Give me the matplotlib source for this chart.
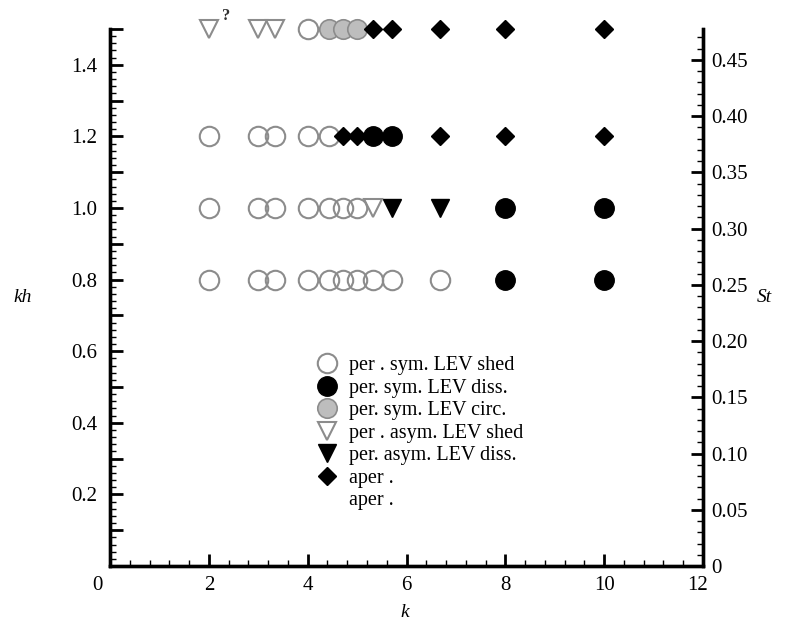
import numpy as np
import matplotlib
matplotlib.use("Agg")
import matplotlib.pyplot as plt
from matplotlib.lines import Line2D
from matplotlib.ticker import MultipleLocator, FixedLocator, FuncFormatter
import matplotlib.transforms as mtransforms

plt.rcParams['font.family'] = ['Liberation Serif', 'DejaVu Serif']

# ---- data (k, kh) per regime ----
sym_shed_k = [4,
              2, 3, 3.33, 4, 4.44,
              2, 3, 3.33, 4, 4.44, 4.71, 5.0,
              2, 3, 3.33, 4, 4.44, 4.71, 5.0, 5.33, 5.71, 6.67]
sym_shed_kh = [1.5,
               1.2, 1.2, 1.2, 1.2, 1.2,
               1.0, 1.0, 1.0, 1.0, 1.0, 1.0, 1.0,
               0.8, 0.8, 0.8, 0.8, 0.8, 0.8, 0.8, 0.8, 0.8, 0.8]

sym_diss_k = [5.33, 5.71, 8, 10, 8, 10]
sym_diss_kh = [1.2, 1.2, 1.0, 1.0, 0.8, 0.8]

sym_circ_k = [4.44, 4.71, 5.0]
sym_circ_kh = [1.5, 1.5, 1.5]

asym_shed_k = [2, 3, 3.33, 5.33]
asym_shed_kh = [1.5, 1.5, 1.5, 1.0]

asym_diss_k = [5.71, 6.67]
asym_diss_kh = [1.0, 1.0]

aper_k = [5.33, 5.71, 6.67, 8, 10, 4.71, 5.0, 6.67, 8, 10]
aper_kh = [1.5, 1.5, 1.5, 1.5, 1.5, 1.2, 1.2, 1.2, 1.2, 1.2]

legend_labels = ["per . sym. LEV shed", "per. sym. LEV diss.", "per. sym. LEV circ.",
                 "per . asym. LEV shed", "per. asym. LEV diss.", "aper .", "aper ."]

x_ticks = [0, 2, 4, 6, 8, 10, 12]
kh_labels = [0.2, 0.4, 0.6, 0.8, 1.0, 1.2, 1.4]
st_ticks = [0, 0.05, 0.10, 0.15, 0.20, 0.25, 0.30, 0.35, 0.40, 0.45]

# ---- styles ----
GRAY_EDGE = '#8c8c8c'
GRAY_FILL = '#bdbdbd'
st_open_circ = dict(marker='o', ms=14, mfc='none', mec=GRAY_EDGE, mew=1.5, ls='none')
st_fill_circ = dict(marker='o', ms=14, mfc='black', mec='black', mew=1, ls='none')
st_gray_circ = dict(marker='o', ms=14, mfc=GRAY_FILL, mec=GRAY_EDGE, mew=1.2, ls='none')
st_open_tri = dict(marker='v', ms=13, mfc='none', mec=GRAY_EDGE, mew=1.5, ls='none')
st_fill_tri = dict(marker='v', ms=13, mfc='black', mec='black', mew=1, ls='none')
st_diamond = dict(marker='D', ms=9.5, mfc='black', mec='black', mew=1, ls='none')

W, H = 794, 628
fig = plt.figure(figsize=(W / 100, H / 100), dpi=100)
L, R, B, T = 110, 703, 566, 29
ax = fig.add_axes([L / W, 1 - B / H, (R - L) / W, (B - T) / H])

ax.plot(sym_shed_k, sym_shed_kh, zorder=3, clip_on=False, **st_open_circ)
ax.plot(sym_circ_k, sym_circ_kh, zorder=3, clip_on=False, **st_gray_circ)
ax.plot(asym_shed_k, asym_shed_kh, zorder=3, clip_on=False, **st_open_tri)
ax.plot(asym_diss_k, asym_diss_kh, zorder=3, clip_on=False, **st_fill_tri)
ax.plot(aper_k, aper_kh, zorder=4, clip_on=False, **st_diamond)
ax.plot(sym_diss_k, sym_diss_kh, zorder=5, clip_on=False, **st_fill_circ)

ax.text(2.35, 1.535, "?", fontsize=12, fontweight='bold', ha='center', va='center',
        clip_on=False, color='#333333')

ax.set_xlim(0, 12)
ax.set_ylim(0, 1.5)

for s in ['left', 'bottom', 'right']:
    ax.spines[s].set_linewidth(2.4)
ax.spines['top'].set_visible(False)

ax.xaxis.set_major_locator(FixedLocator(x_ticks))
ax.xaxis.set_minor_locator(MultipleLocator(0.4))
ax.xaxis.set_major_formatter(FuncFormatter(lambda v, p: f"{int(round(v))}"))
ax.yaxis.set_major_locator(MultipleLocator(0.1))
ax.yaxis.set_minor_locator(MultipleLocator(0.02))

def kh_fmt(v, p):
    for lv in kh_labels:
        if abs(v - lv) < 1e-6:
            return f"{lv:.1f}"
    return ""
ax.yaxis.set_major_formatter(FuncFormatter(kh_fmt))

ax.tick_params(axis='both', which='major', direction='in', length=9, width=2.0,
               labelsize=15, colors='black')
ax.tick_params(axis='both', which='minor', direction='in', length=4, width=1.0)
ax.tick_params(axis='x', which='major', pad=7)
ax.tick_params(axis='y', which='major', pad=9)
ax.tick_params(right=False, top=False, which='both')

ax2 = ax.twinx()
ax2.set_ylim(0, 1.5 / np.pi)
ax2.yaxis.set_major_locator(FixedLocator(st_ticks))
ax2.yaxis.set_minor_locator(MultipleLocator(0.01))
ax2.yaxis.set_major_formatter(FuncFormatter(lambda v, p: "0" if abs(v) < 1e-9 else f"{v:.2f}"))
ax2.tick_params(axis='y', which='major', direction='in', length=9, width=2.0, labelsize=15, pad=6)
ax2.tick_params(axis='y', which='minor', direction='in', length=4, width=1.0)
for s in ['left', 'bottom', 'right']:
    ax2.spines[s].set_linewidth(2.4)
ax2.spines['top'].set_visible(False)

ax.text(-0.147, 0.5, "kh", transform=ax.transAxes, fontsize=14, style='italic',
        ha='center', va='center')
ax.text(0.497, -0.086, "k", transform=ax.transAxes, fontsize=14, style='italic',
        ha='center', va='center')
ax.text(1.103, 0.5, "St", transform=ax.transAxes, fontsize=14, style='italic',
        ha='center', va='center')

handles = [Line2D([], [], **st_open_circ), Line2D([], [], **st_fill_circ),
           Line2D([], [], **st_gray_circ), Line2D([], [], **st_open_tri),
           Line2D([], [], **st_fill_tri), Line2D([], [], **st_diamond),
           Line2D([], [], ls='none', marker='None')]
ax.legend(handles, legend_labels, loc='upper left',
          bbox_to_anchor=(317 / W, 1 - 356 / H), bbox_transform=fig.transFigure,
          frameon=False, fontsize=14.5, handlelength=1.0, handletextpad=0.6,
          labelspacing=0.17, borderpad=0, borderaxespad=0)

fig.canvas.draw()
# Tecplot-like offsets of the end labels
for lab in ax.get_xticklabels():
    if lab.get_text() == "0":
        lab.set_transform(lab.get_transform() + mtransforms.ScaledTranslation(-13 / 100, 0, fig.dpi_scale_trans))
    if lab.get_text() == "12":
        lab.set_transform(lab.get_transform() + mtransforms.ScaledTranslation(-5 / 100, 0, fig.dpi_scale_trans))

fig.savefig("out.png", dpi=100)
